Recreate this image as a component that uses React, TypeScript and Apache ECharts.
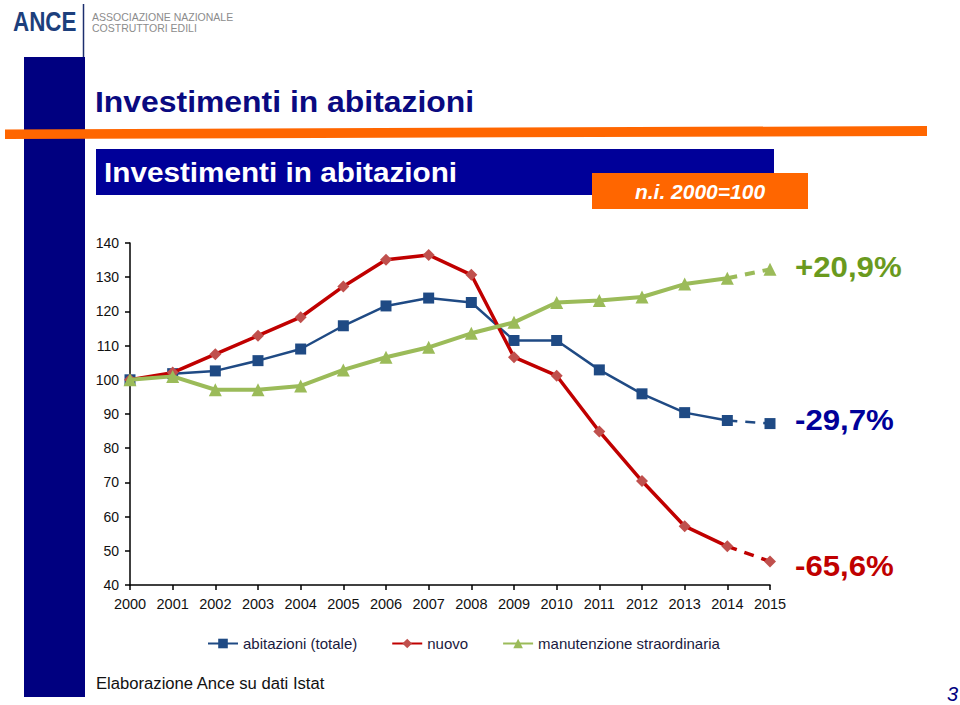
import React, { useEffect, useRef } from "react";
import * as echarts from "echarts";

// ---- data ----
const years = ["2000", "2001", "2002", "2003", "2004", "2005", "2006", "2007", "2008", "2009", "2010", "2011", "2012", "2013", "2014", "2015"];
const abitazioni = [100, 101.8, 102.6, 105.6, 109.0, 115.8, 121.6, 123.9, 122.6, 111.5, 111.5, 102.9, 95.9, 90.4, 88.1, 87.2];
const nuovo = [100, 102.1, 107.5, 112.9, 118.3, 127.3, 135.1, 136.5, 130.7, 106.6, 101.2, 84.9, 70.4, 57.2, 51.3, 46.9];
const manutenzione = [100, 101.0, 97.1, 97.1, 98.2, 102.9, 106.6, 109.5, 113.6, 116.8, 122.6, 123.2, 124.2, 128.0, 129.7, 132.3];
const seriesNames = ["abitazioni (totale)", "nuovo", "manutenzione straordinaria"];
const variations = ["+20,9%", "-29,7%", "-65,6%"];
const yMin = 40;
const yMax = 140;
const yInterval = 10;

const FONT = '"Liberation Sans", Arial, Helvetica, sans-serif';

const lastSolid = years.length - 2; // solid line up to 2014, dashed to 2015

function solidPart(values: number[]) {
  return values.map((v, i) => (i <= lastSolid ? v : "-"));
}
function dashedPart(values: number[]) {
  return values.map((v, i) => (i < lastSolid ? "-" : i === lastSolid ? { value: v, symbol: "none" } : v));
}

export default function App() {
  const ref = useRef<HTMLDivElement | null>(null);

  useEffect(() => {
    if (!ref.current) return;
    const chart = echarts.init(ref.current, undefined, { renderer: "svg" });

    const styles = [
      { color: "#1f4a84", marker: "#1f4a84", width: 2.5, symbol: "rect", size: 11 },
      { color: "#c00000", marker: "#c0504d", width: 3.5, symbol: "diamond", size: 12 },
      { color: "#9bbb59", marker: "#9bbb59", width: 4, symbol: "triangle", size: 13 },
    ];
    const datasets = [abitazioni, nuovo, manutenzione];

    const series: any[] = [];
    datasets.forEach((vals, k) => {
      const st = styles[k];
      series.push({
        name: seriesNames[k],
        type: "line",
        data: solidPart(vals),
        symbol: st.symbol,
        symbolSize: st.size,
        showAllSymbol: true,
        lineStyle: { color: st.color, width: st.width },
        itemStyle: { color: st.marker, borderWidth: 0 },
        z: 2 + k,
      });
    });
    datasets.forEach((vals, k) => {
      const st = styles[k];
      series.push({
        name: seriesNames[k] + " (stima)",
        type: "line",
        data: dashedPart(vals),
        symbol: st.symbol,
        symbolSize: st.size,
        showAllSymbol: true,
        lineStyle: { color: st.color, width: st.width, type: [10, 8] },
        itemStyle: { color: st.marker, borderWidth: 0 },
        z: 2 + k,
      });
    });

    const text = (
      t: string,
      x: number,
      y: number,
      opts: { size: number; fill: string; weight?: string; style?: string; scaleX?: number; align?: string }
    ) => ({
      type: "text",
      x,
      y,
      scaleX: opts.scaleX ?? 1,
      style: {
        text: t,
        x: 0,
        y: 0,
        fill: opts.fill,
        fontSize: opts.size,
        fontWeight: opts.weight ?? "normal",
        fontStyle: opts.style ?? "normal",
        fontFamily: FONT,
        align: opts.align ?? "left",
        verticalAlign: "middle",
      },
    });

    const option: any = {
      animation: false,
      backgroundColor: "#ffffff",
      grid: { left: 130, right: 190, top: 243, bottom: 120, containLabel: false },
      legend: {
        data: seriesNames,
        left: 207,
        top: 636,
        padding: 0,
        itemWidth: 30,
        itemHeight: 12,
        itemGap: 34,
        textStyle: { fontSize: 15, color: "#1a1a40", fontFamily: FONT },
      },
      xAxis: {
        type: "category",
        data: years,
        boundaryGap: false,
        axisLine: { lineStyle: { color: "#000", width: 1.5 } },
        axisTick: { show: true, alignWithLabel: true, length: 5, lineStyle: { color: "#000", width: 1.5 } },
        axisLabel: { fontSize: 14.5, color: "#111", fontFamily: FONT, margin: 11, interval: 0 },
        splitLine: { show: false },
      },
      yAxis: {
        type: "value",
        min: yMin,
        max: yMax,
        interval: yInterval,
        axisLine: { show: true, lineStyle: { color: "#000", width: 1.5 } },
        axisTick: { show: true, length: 5, lineStyle: { color: "#000", width: 1.5 } },
        axisLabel: { fontSize: 14, color: "#111", fontFamily: FONT, margin: 11 },
        splitLine: { show: false },
      },
      series,
      graphic: [
        // left navy bar
        { type: "rect", shape: { x: 24, y: 57, width: 61, height: 640 }, style: { fill: "#000080" }, z: 0 },
        // logo divider
        { type: "line", shape: { x1: 83.5, y1: 4, x2: 83.5, y2: 57 }, style: { stroke: "#1c2f6e", lineWidth: 1.5 } },
        text("ANCE", 13, 21.5, { size: 28, fill: "#1c3f7c", weight: "bold", scaleX: 0.8 }),
        text("ASSOCIAZIONE NAZIONALE", 92, 16.5, { size: 10.5, fill: "#8c8c8c" }),
        text("COSTRUTTORI EDILI", 92, 27.5, { size: 10.5, fill: "#8c8c8c" }),
        // main title
        text("Investimenti in abitazioni", 95, 101.5, { size: 29, fill: "#0a0a80", weight: "bold", scaleX: 1.1 }),
        // orange rule
        {
          type: "polygon",
          shape: { points: [[5, 129.5], [927, 126], [927, 136], [5, 139]] },
          style: { fill: "#ff6600" },
        },
        // navy header box
        { type: "rect", shape: { x: 96, y: 149, width: 678, height: 46 }, style: { fill: "#000099" } },
        text("Investimenti in abitazioni", 104, 172, { size: 27, fill: "#ffffff", weight: "bold", scaleX: 1.1 }),
        // orange sub box
        { type: "rect", shape: { x: 592, y: 173, width: 216, height: 36 }, style: { fill: "#ff6600" } },
        text("n.i. 2000=100", 700, 191.5, { size: 21, fill: "#ffffff", weight: "bold", style: "italic", align: "center" }),
        // variations
        text(variations[0], 795, 266, { size: 30, fill: "#6a9a1e", weight: "bold", scaleX: 1.04 }),
        text(variations[1], 795, 419.5, { size: 30, fill: "#000099", weight: "bold", scaleX: 1.04 }),
        text(variations[2], 795, 565.5, { size: 30, fill: "#c00000", weight: "bold", scaleX: 1.04 }),
        // footer
        text("Elaborazione Ance su dati Istat", 96, 683, { size: 16, fill: "#111111", scaleX: 1.04 }),
        text("3", 958, 694, { size: 20, fill: "#000080", style: "italic", align: "right" }),
      ],
    };

    chart.setOption(option);
    return () => chart.dispose();
  }, []);

  return (
    <div
      ref={ref}
      style={{ position: "absolute", left: 0, top: 0, width: 960, height: 705, background: "#fff" }}
    />
  );
}
